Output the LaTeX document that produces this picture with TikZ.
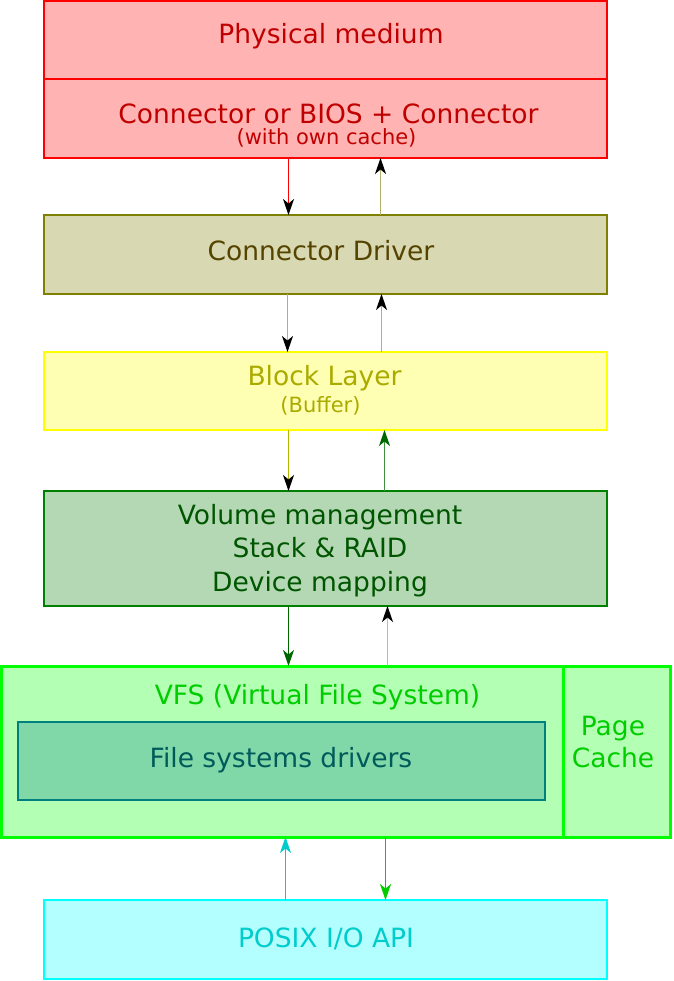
\documentclass[tikz,border=0pt]{standalone}
\usepackage{fontspec}
\setmainfont{DejaVu Sans}
\usetikzlibrary{arrows.meta}

\definecolor{physfill}{HTML}{FFB3B3}
\definecolor{physline}{HTML}{FF0000}
\definecolor{phystext}{HTML}{C00000}
\definecolor{drvfill}{HTML}{D8D8B3}
\definecolor{drvline}{HTML}{808000}
\definecolor{drvtext}{HTML}{554400}
\definecolor{drvarrow}{HTML}{B3B36E}
\definecolor{blkfill}{HTML}{FFFFB3}
\definecolor{blkline}{HTML}{FFFF00}
\definecolor{blktext}{HTML}{AAAA00}
\definecolor{blkarrow}{HTML}{B3B300}
\definecolor{volfill}{HTML}{B3D8B3}
\definecolor{volline}{HTML}{008000}
\definecolor{voltext}{HTML}{005500}
\definecolor{volarrow}{HTML}{006600}
\definecolor{volup}{HTML}{409040}
\definecolor{vfsfill}{HTML}{B3FFB3}
\definecolor{vfsline}{HTML}{00FF00}
\definecolor{vfstext}{HTML}{00CC00}
\definecolor{vfsarrow}{HTML}{80E080}
\definecolor{fsdfill}{HTML}{80D8A8}
\definecolor{fsdline}{HTML}{008080}
\definecolor{fsdtext}{HTML}{005A5A}
\definecolor{posixfill}{HTML}{B3FFFF}
\definecolor{posixline}{HTML}{00FFFF}
\definecolor{posixtext}{HTML}{00CCCC}

\newcommand{\bigtxt}{\fontsize{26.5}{33.5}\selectfont}
\newcommand{\smalltxt}{\fontsize{21}{24}\selectfont}

\begin{document}
\begin{tikzpicture}[x=1pt,y=-1pt,
  layer/.style={draw, rectangle, inner sep=0pt, outer sep=0pt, line width=2pt,
    minimum width=563pt, minimum height=78pt},
  lbl/.style={anchor=base, inner sep=0pt, font=\bigtxt},
  sub/.style={anchor=base, inner sep=0pt, font=\smalltxt},
  flow/.style={line width=1.1pt, -{Stealth[length=16pt,width=11pt,inset=4.5pt]}},
  flowk/.style={line width=1.1pt, -{Stealth[length=16pt,width=11pt,inset=4.5pt,color=black]}}]
  \useasboundingbox (0,0) rectangle (673,981);

  % layers
  \node[layer, fill=physfill, draw=physline] (phys) at (325.5,40) {};
  \node[layer, fill=physfill, draw=physline, minimum height=79pt] (conn) at (325.5,118.5) {};
  \node[layer, fill=drvfill, draw=drvline, minimum height=79pt] (drv) at (325.5,254.5) {};
  \node[layer, fill=blkfill, draw=blkline] (blk) at (325.5,391) {};
  \node[layer, fill=volfill, draw=volline, minimum height=115pt] (vol) at (325.5,548.5) {};
  \node[layer, fill=vfsfill, draw=vfsline, line width=3pt, minimum width=562pt, minimum height=171pt] (vfs) at (282,751.5) {};
  \node[layer, fill=fsdfill, draw=fsdline, line width=1.5pt, minimum width=527pt] (fsd) at (281.5,761) {};
  \node[layer, fill=vfsfill, draw=vfsline, line width=3pt, minimum width=107pt, minimum height=171pt] (page) at (616.5,751.5) {};
  \node[layer, fill=posixfill, draw=posixline, minimum height=79pt] (posix) at (325.5,939.5) {};

  % labels
  \node[lbl, text=phystext] (physlbl) at (331,44) {Physical medium};
  \node[lbl, text=phystext] (connlbl) at (328.5,124) {Connector or BIOS + Connector};
  \node[sub, text=phystext] (connsub) at (326.5,145) {(with own cache)};
  \node[lbl, text=drvtext] (drvlbl) at (321,261) {Connector Driver};
  \node[lbl, text=blktext] (blklbl) at (324.5,385) {Block Layer};
  \node[sub, text=blktext] (blksub) at (320.5,412) {(Buffer)};
  \node[lbl, text=voltext] (vollbla) at (320,524) {Volume management};
  \node[lbl, text=voltext] (vollblb) at (320,557) {Stack \& RAID};
  \node[lbl, text=voltext] (vollblc) at (320,591) {Device mapping};
  \node[lbl, text=vfstext] (vfslbl) at (317.5,704) {VFS (Virtual File System)};
  \node[lbl, text=fsdtext] (fsdlbl) at (281,767) {File systems drivers};
  \node[lbl, text=vfstext] (pagelbla) at (613,735) {Page};
  \node[lbl, text=vfstext] (pagelblb) at (613,767) {Cache};
  \node[lbl, text=posixtext] (posixlbl) at (326,947) {POSIX I/O API};

  % requests down, answers up
  \draw[flowk, physline] (conn.south -| 288.5,0) -- (drv.north -| 288.5,0);
  \draw[flowk, drvarrow] (drv.north -| 380.5,0) -- (conn.south -| 380.5,0);
  \draw[flowk, drvarrow] (drv.south -| 287.5,0) -- (blk.north -| 287.5,0);
  \draw[flowk, drvarrow] (blk.north -| 381.5,0) -- (drv.south -| 381.5,0);
  \draw[flowk, blkarrow] (blk.south -| 288.5,0) -- (vol.north -| 288.5,0);
  \draw[flow, volup, -{Stealth[length=16pt,width=11pt,inset=4.5pt,color=volarrow]}] (vol.north -| 384.5,0) -- (blk.south -| 384.5,0);
  \draw[flow, volarrow] (vol.south -| 288.5,0) -- (vfs.north -| 288.5,0);
  \draw[flowk, vfsarrow] (vfs.north -| 387.5,0) -- (vol.south -| 387.5,0);
  \draw[flow, posixtext] (posix.north -| 285.5,0) -- (vfs.south -| 285.5,0);
  \draw[flow, vfstext] (vfs.south -| 385.5,0) -- (posix.north -| 385.5,0);
\end{tikzpicture}
\end{document}
